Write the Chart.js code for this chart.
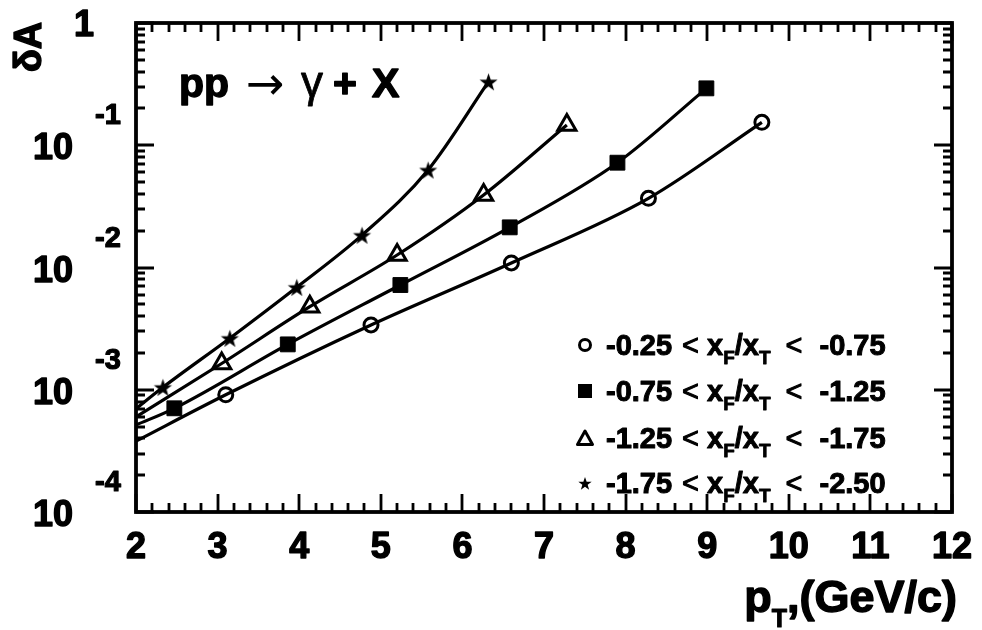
<!DOCTYPE html>
<html>
<head>
<meta charset="utf-8">
<script src="https://cdn.jsdelivr.net/npm/chart.js@4.4.1/dist/chart.umd.min.js"></script>
<style>
  html, body { margin: 0; padding: 0; background: #fff; }
  canvas { display: block; }
</style>
</head>
<body>
<canvas id="c" width="982" height="630"></canvas>
<script>
// pT (GeV/c) and asymmetry dA for each x_F/x_T bin.
// The first entry of every curve is where the fitted curve starts (no marker there).
const ptBin1 = [2.00, 3.10, 4.88, 6.60, 8.28, 9.67];
const dABin1 = [3.8e-4, 9.1e-4, 3.39e-3, 1.09e-2, 3.68e-2, 0.154];

const ptBin2 = [2.00, 2.47, 3.86, 5.24, 6.58, 7.90, 8.99];
const dABin2 = [5.15e-4, 7.05e-4, 2.35e-3, 7.19e-3, 2.13e-2, 7.2e-2, 0.292];

const ptBin3 = [2.00, 3.05, 4.13, 5.20, 6.26, 7.28];
const dABin3 = [6.0e-4, 1.64e-3, 4.78e-3, 1.265e-2, 3.92e-2, 0.1465];

const ptBin4 = [2.00, 2.33, 3.15, 3.97, 4.77, 5.58, 6.32];
const dABin4 = [7.0e-4, 1.047e-3, 2.64e-3, 6.89e-3, 1.84e-2, 6.28e-2, 0.331];

const binLabels = [
  ['-0.25', '-0.75'],
  ['-0.75', '-1.25'],
  ['-1.25', '-1.75'],
  ['-1.75', '-2.50']
];

const xTickValues = [2, 3, 4, 5, 6, 7, 8, 9, 10, 11, 12];
const yDecadeExponents = [0, -1, -2, -3, -4];

const FONT = "'Liberation Sans', Arial, Helvetica, sans-serif";

// small filled five-pointed star used as a point marker
function makeStar(outer, inner) {
  const s = Math.ceil(outer * 2 + 2);
  const cv = document.createElement('canvas');
  cv.width = s; cv.height = s;
  const g = cv.getContext('2d');
  g.fillStyle = '#000';
  g.beginPath();
  for (let i = 0; i < 10; i++) {
    const r = i % 2 ? inner : outer;
    const a = -Math.PI / 2 + i * Math.PI / 5;
    g.lineTo(s / 2 + r * Math.cos(a), s / 2 + 1 + r * Math.sin(a));
  }
  g.closePath();
  g.fill();
  return cv;
}
const starPoint = makeStar(9.5, 3.8);
const starLegend = makeStar(7, 2.8);

function series(xs, ys, style, radius, borderW, fill) {
  return {
    data: xs.map((x, i) => ({ x: x, y: ys[i] })),
    borderColor: '#000',
    borderWidth: 3.2,
    fill: false,
    cubicInterpolationMode: 'monotone',
    pointStyle: style,
    pointRadius: xs.map((_, i) => (i === 0 ? 0 : radius)),
    pointHoverRadius: xs.map((_, i) => (i === 0 ? 0 : radius)),
    pointBorderWidth: borderW,
    pointBorderColor: '#000',
    pointBackgroundColor: fill
  };
}

// heavy text: fill plus a thin outline so the glyphs read as extra bold
function text(ctx, s, x, y, size, weight, align, heavy) {
  ctx.font = (weight || 'bold') + ' ' + size + 'px ' + FONT;
  ctx.textAlign = align || 'left';
  ctx.fillText(s, x, y);
  if (heavy) {
    ctx.lineWidth = heavy;
    ctx.lineJoin = 'round';
    ctx.strokeText(s, x, y);
  }
  return x + ctx.measureText(s).width;
}

function legendMarker(ctx, kind, x, y) {
  ctx.save();
  ctx.strokeStyle = '#000';
  ctx.fillStyle = '#000';
  ctx.lineWidth = 3;
  if (kind === 0) {
    ctx.beginPath(); ctx.arc(x, y, 5.5, 0, Math.PI * 2); ctx.stroke();
  } else if (kind === 1) {
    ctx.fillRect(x - 7, y - 7, 14, 14);
  } else if (kind === 2) {
    ctx.beginPath();
    ctx.moveTo(x, y - 7); ctx.lineTo(x + 7.5, y + 6.5); ctx.lineTo(x - 7.5, y + 6.5);
    ctx.closePath(); ctx.stroke();
  } else {
    ctx.drawImage(starLegend, x - starLegend.width / 2, y - starLegend.height / 2);
  }
  ctx.restore();
}

const framePlugin = {
  id: 'frameAndLabels',
  afterDatasetsDraw(chart) {
    const ctx = chart.ctx;
    const a = chart.chartArea;
    const sx = chart.scales.x;
    const sy = chart.scales.y;
    ctx.save();
    ctx.strokeStyle = '#000';
    ctx.fillStyle = '#000';

    // tick marks on all four sides
    ctx.lineWidth = 2.8;
    ctx.beginPath();
    for (let k = 0; k <= 50; k++) {
      const v = 2 + k * 0.2;
      const px = Math.round(sx.getPixelForValue(v));
      const len = (k % 5 === 0) ? 18 : 9;
      ctx.moveTo(px, a.bottom); ctx.lineTo(px, a.bottom - len);
      ctx.moveTo(px, a.top); ctx.lineTo(px, a.top + len);
    }
    for (let e = -4; e <= 0; e++) {
      for (let m = 1; m <= 9; m++) {
        const v = m * Math.pow(10, e);
        if (v > 1.0001) break;
        const py = Math.round(sy.getPixelForValue(v));
        const len = (m === 1) ? 18 : 9;
        ctx.moveTo(a.left, py); ctx.lineTo(a.left + len, py);
        ctx.moveTo(a.right, py); ctx.lineTo(a.right - len, py);
      }
    }
    ctx.stroke();

    // frame
    ctx.lineWidth = 3.8;
    ctx.strokeRect(a.left, a.top, a.right - a.left, a.bottom - a.top);

    // x tick labels
    ctx.textBaseline = 'alphabetic';
    xTickValues.forEach(v => {
      text(ctx, String(v), sx.getPixelForValue(v), 558, 36, 'bold', 'center', 1.4);
    });

    // y tick labels (powers of ten)
    yDecadeExponents.forEach(e => {
      const py = sy.getPixelForValue(Math.pow(10, e));
      if (e === 0) {
        text(ctx, '1', 84, py + 13, 36, 'bold', 'center', 1.4);
      } else {
        text(ctx, '10', 73, py + 14, 36, 'bold', 'right', 1.4);
        text(ctx, String(e), 95, py - 21, 29, 'bold', 'left', 1.2);
      }
    });

    // y axis title
    ctx.save();
    ctx.translate(41, 47);
    ctx.rotate(-Math.PI / 2);
    text(ctx, 'δA', 0, 0, 38, 'bold', 'center', 1.4);
    ctx.restore();

    // x axis title, right aligned with the frame
    ctx.font = 'bold 45px ' + FONT;
    const wP = ctx.measureText('p').width;
    const wRest = ctx.measureText(',(GeV/c)').width;
    ctx.font = 'bold 25px ' + FONT;
    const wT = ctx.measureText('T').width;
    let tx = 957 - (wP + wT + wRest);
    tx = text(ctx, 'p', tx, 612, 45, 'bold', 'left', 1.4);
    tx = text(ctx, 'T', tx, 627, 25, 'bold', 'left', 1);
    text(ctx, ',(GeV/c)', tx, 612, 45, 'bold', 'left', 1.4);

    // reaction label
    text(ctx, 'pp', 179, 97, 41, 'bold', 'left', 1.4);
    ctx.font = 'normal 46px DejaVu Sans, ' + FONT;
    ctx.textAlign = 'left';
    ctx.fillText('→', 246, 99);
    text(ctx, 'γ', 301, 97, 44, 'normal', 'left', 0.8);
    text(ctx, '+', 333, 97, 41, 'bold', 'left', 1.4);
    text(ctx, 'X', 372, 97, 41, 'bold', 'left', 1.4);

    // legend
    const baselines = [355, 401, 448, 493];
    binLabels.forEach((lab, i) => {
      const yb = baselines[i];
      legendMarker(ctx, i, 585, yb - 10);
      let x = 606;
      x = text(ctx, lab[0], x, yb, 29, 'bold', 'left', 1) + 10;
      x = text(ctx, '<', x, yb, 29, 'normal', 'left', 1) + 8;
      x = text(ctx, 'x', x, yb, 29, 'bold', 'left', 1);
      x = text(ctx, 'F', x, yb + 9, 19, 'bold', 'left', 0.8);
      x = text(ctx, '/', x, yb, 29, 'bold', 'left', 1);
      x = text(ctx, 'x', x, yb, 29, 'bold', 'left', 1);
      x = text(ctx, 'T', x, yb + 9, 19, 'bold', 'left', 0.8) + 15;
      x = text(ctx, '<', x, yb, 29, 'normal', 'left', 1) + 17;
      text(ctx, lab[1], x, yb, 29, 'bold', 'left', 1);
    });

    ctx.restore();
  }
};

new Chart(document.getElementById('c'), {
  type: 'line',
  data: {
    datasets: [
      series(ptBin1, dABin1, 'circle', 7, 3, 'rgba(0,0,0,0)'),
      series(ptBin2, dABin2, 'rect', 10.5, 1, '#000'),
      series(ptBin3, dABin3, 'triangle', 10.5, 3, 'rgba(0,0,0,0)'),
      series(ptBin4, dABin4, starPoint, 6, 1, '#000')
    ]
  },
  options: {
    responsive: false,
    animation: false,
    events: [],
    layout: { padding: { left: 136, right: 30, top: 23, bottom: 118 } },
    plugins: { legend: { display: false }, tooltip: { enabled: false } },
    scales: {
      x: { type: 'linear', min: 2, max: 12, display: false },
      y: { type: 'logarithmic', min: 1e-4, max: 1, display: false }
    }
  },
  plugins: [framePlugin]
});
</script>
</body>
</html>
